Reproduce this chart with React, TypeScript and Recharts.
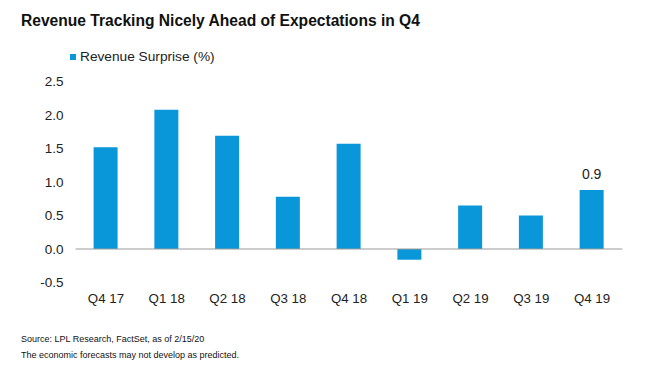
import React from "react";
import { BarChart, Bar, XAxis, YAxis, ReferenceLine, Legend, LabelList } from "recharts";

const categories = ["Q4 17", "Q1 18", "Q2 18", "Q3 18", "Q4 18", "Q1 19", "Q2 19", "Q3 19", "Q4 19"];
const revenueSurprise = [1.52, 2.08, 1.69, 0.78, 1.57, -0.16, 0.65, 0.5, 0.88];
const yTicks = [-0.5, 0, 0.5, 1.0, 1.5, 2.0, 2.5];
const seriesName = "Revenue Surprise (%)";
const title = "Revenue Tracking Nicely Ahead of Expectations in Q4";
const footnotes = ["Source: LPL Research, FactSet, as of 2/15/20", "The economic forecasts may not develop as predicted."];

const data = categories.map((c, i) => ({ name: c, value: revenueSurprise[i] }));

const FONT = "'Liberation Sans', Arial, sans-serif";
const BLUE = "#0A97D9";
const TEXT = "#222222";

const lastIndex = categories.length - 1;

const LastLabel = (props: any) => {
  const { x, y, width, value, index } = props;
  if (index !== lastIndex) return null;
  return (
    <text x={x + width / 2} y={y - 11} textAnchor="middle" fontSize={14} fill={TEXT} fontFamily={FONT}>
      {Number(value).toFixed(1)}
    </text>
  );
};

export default function App() {
  return (
    <div style={{ position: "absolute", left: 0, top: 0, width: 649, height: 380, background: "#fff", fontFamily: FONT }}>
      <div style={{ position: "absolute", left: 21, top: 12.8, fontSize: 15.6, lineHeight: 1, fontWeight: "bold", color: "#111", whiteSpace: "nowrap" }}>
        {title}
      </div>
      <BarChart
        width={649}
        height={380}
        data={data}
        margin={{ top: 81.5, right: 26.6, bottom: 67.5, left: 0 }}
        barSize={24}
      >
        <XAxis
          dataKey="name"
          axisLine={false}
          tickLine={false}
          tickMargin={5}
          height={30}
          interval={0}
          tick={{ fontSize: 13.3, fill: TEXT, fontFamily: FONT }}
        />
        <YAxis
          domain={[-0.5, 2.5]}
          ticks={yTicks}
          width={75.6}
          axisLine={false}
          tickLine={false}
          tickMargin={6}
          interval={0}
          tickFormatter={(v: number) => v.toFixed(1)}
          tick={{ fontSize: 13.5, fill: TEXT, fontFamily: FONT }}
        />
        <ReferenceLine y={0} stroke="#999999" strokeWidth={1} />
        <Legend
          verticalAlign="middle"
          align="center"
          layout="horizontal"
          iconType="square"
          iconSize={6}
          wrapperStyle={{ position: "absolute", top: 49, left: 70, width: "auto", fontSize: 13.7, fontFamily: FONT, textAlign: "left" }}
          formatter={(v: string) => <span style={{ color: TEXT }}>{v}</span>}
        />
        <Bar dataKey="value" name={seriesName} fill={BLUE} isAnimationActive={false}>
          <LabelList dataKey="value" content={LastLabel} />
        </Bar>
      </BarChart>
      {footnotes.map((t, i) => (
        <div key={i} style={{ position: "absolute", left: 21, top: 335.1 + i * 16.3, fontSize: 9, lineHeight: 1, color: "#111", whiteSpace: "nowrap" }}>
          {t}
        </div>
      ))}
    </div>
  );
}
